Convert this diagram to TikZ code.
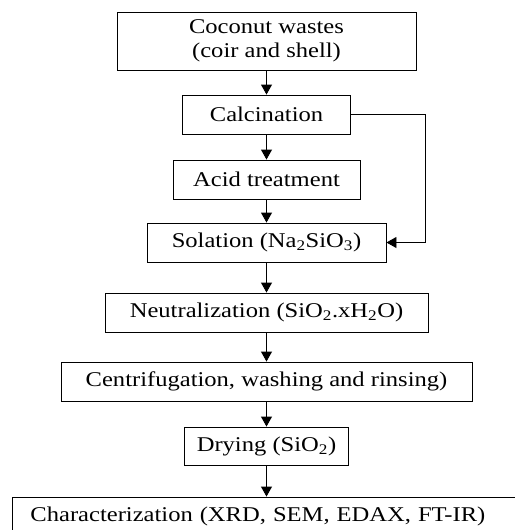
\documentclass[tikz,border=0pt]{standalone}
\usepackage{fontspec}
\setmainfont{Liberation Serif}[FakeStretch=1.17]
\usepackage{tikz}
\usetikzlibrary{arrows.meta,positioning}

\tikzset{
  stage/.style={draw=black,line width=0.9pt,inner sep=0pt,align=center,
    font=\fontsize{21}{24}\selectfont},
  flow/.style={line width=0.9pt,-{Triangle[width=11pt,length=10pt]}}
}

\begin{document}
\begin{tikzpicture}[x=1pt,y=-1pt]
          \useasboundingbox (0,0) rectangle (514,530);

          \node[stage,minimum width=299pt,minimum height=58pt] (coco) at (266.5,41) {Coconut wastes\\(coir and shell)};
          \node[stage,minimum width=168pt,minimum height=39pt] (calc) at (266.5,114.5) {Calcination};
          \node[stage,minimum width=187pt,minimum height=39pt] (acid) at (266.5,179.5) {Acid treatment};
          \node[stage,minimum width=239pt,minimum height=39pt] (sol) at (266.5,242.5) {Solation (Na\textsubscript{2}SiO\textsubscript{3})};
          \node[stage,minimum width=323pt,minimum height=39pt] (neut) at (266.5,312.5) {Neutralization (SiO\textsubscript{2}.xH\textsubscript{2}O)};
          \node[stage,minimum width=411pt,minimum height=39pt] (cent) at (266.5,381.5) {Centrifugation, washing and rinsing)};
          \node[stage,minimum width=164pt,minimum height=38pt] (dry) at (266.5,446) {Drying (SiO\textsubscript{2})};
          \node[stage,anchor=west,text width=472pt,align=left,inner xsep=18pt,minimum height=39pt] (char) at (12,516.5) {Characterization (XRD, SEM, EDAX, FT-IR)};

          \draw[flow] (coco) -- (calc);
          \draw[flow] (calc) -- (acid);
          \draw[flow] (acid) -- (sol);
          \draw[flow] (sol) -- (neut);
          \draw[flow] (neut) -- (cent);
          \draw[flow] (cent) -- (dry);
          \draw[flow] (dry) -- (dry.center |- char.north);

          % bypass from calcination to solation
          \coordinate (bend) at (425,114.5);
          \draw[flow] (calc.east) -- (bend) |- (sol.east);
        \end{tikzpicture}
\end{document}
